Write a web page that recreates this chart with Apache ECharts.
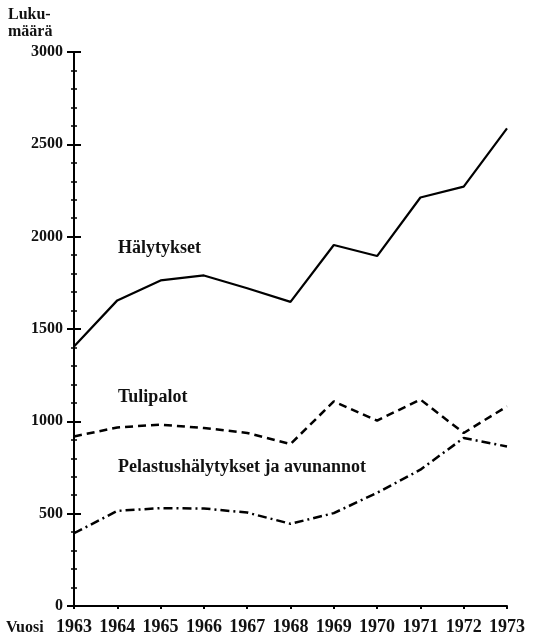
<!DOCTYPE html>
<html>
<head>
<meta charset="utf-8">
<script src="https://cdn.jsdelivr.net/npm/echarts@6/dist/echarts.min.js"></script>
<style>
html,body{margin:0;padding:0;background:#fff;}
#chart{width:537px;height:640px;}
</style>
</head>
<body>
<div id="chart"></div>
<script>
const years = ['1963','1964','1965','1966','1967','1968','1969','1970','1971','1972','1973'];
const halytykset = [1405, 1655, 1763, 1790, 1721, 1647, 1955, 1895, 2212, 2271, 2586];
const tulipalot = [918, 967, 982, 964, 937, 877, 1108, 1004, 1118, 937, 1081];
const pelastus = [394, 515, 530, 528, 506, 445, 503, 613, 738, 910, 864];
const seriesNames = ['Hälytykset', 'Tulipalot', 'Pelastushälytykset ja avunannot'];
const yTitle = ['Luku-', 'määrä'];
const xTitle = 'Vuosi';

const FONT = 'Liberation Serif';
const chart = echarts.init(document.getElementById('chart'), null, {renderer: 'canvas'});
const yBase = {
  type: 'value', min: 0, max: 3000, interval: 500, position: 'left',
  splitLine: {show: false}
};
chart.setOption({
  animation: false,
  backgroundColor: '#fff',
  grid: {left: 74, right: 30, top: 52, bottom: 34, containLabel: false},
  xAxis: [{
    type: 'category', data: years, boundaryGap: false,
    axisLine: {lineStyle: {color: '#000', width: 2}},
    axisTick: {show: true, alignWithLabel: true, length: 3, lineStyle: {color: '#000', width: 2}},
    axisLabel: {color: '#111', fontFamily: FONT, fontWeight: 'bold', fontSize: 18, margin: 12, interval: 0},
    splitLine: {show: false}
  }],
  yAxis: [
    Object.assign({}, yBase, {
      axisLine: {show: true, lineStyle: {color: '#000', width: 2}},
      axisTick: {show: true, length: 7, lineStyle: {color: '#000', width: 2}},
      minorTick: {show: true, splitNumber: 5, length: 3, lineStyle: {color: '#000', width: 1.5}},
      axisLabel: {color: '#111', fontFamily: FONT, fontWeight: 'bold', fontSize: 16, margin: 11,
                  formatter: function (v) { return String(v); }},
    }),
    Object.assign({}, yBase, {
      axisLine: {show: false},
      axisTick: {show: true, inside: true, length: 7, lineStyle: {color: '#000', width: 2}},
      minorTick: {show: true, splitNumber: 5, length: 3, lineStyle: {color: '#000', width: 1.5}},
      axisLabel: {show: false}
    })
  ],
  series: [
    {name: seriesNames[0], type: 'line', data: halytykset, symbol: 'none',
     lineStyle: {color: '#000', width: 2.2, type: 'solid'}},
    {name: seriesNames[1], type: 'line', data: tulipalot, symbol: 'none',
     lineStyle: {color: '#000', width: 2.5, type: [8, 5]}},
    {name: seriesNames[2], type: 'line', data: pelastus, symbol: 'none',
     lineStyle: {color: '#000', width: 2.5, type: [9, 4, 2, 4]}}
  ],
  graphic: [
    {type: 'text', left: 8, top: 6, style: {text: yTitle.join('\n'), fill: '#111', font: 'bold 16px "Liberation Serif"', lineHeight: 17}},
    {type: 'text', left: 6, top: 620, style: {text: xTitle, fill: '#111', font: 'bold 16px "Liberation Serif"'}},
    {type: 'text', left: 118, top: 239, style: {text: seriesNames[0], fill: '#111', font: 'bold 18px "Liberation Serif"'}},
    {type: 'text', left: 118, top: 388, style: {text: seriesNames[1], fill: '#111', font: 'bold 18px "Liberation Serif"'}},
    {type: 'text', left: 118, top: 458, style: {text: seriesNames[2], fill: '#111', font: 'bold 18px "Liberation Serif"'}}
  ]
});
</script>
</body>
</html>
